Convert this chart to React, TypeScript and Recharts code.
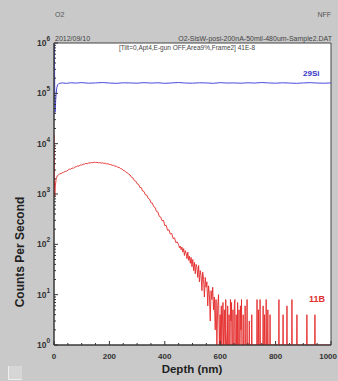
import React from 'react';
import { LineChart, Line, XAxis, YAxis, CartesianGrid, ReferenceArea } from 'recharts';

// 29Si series: [depth (nm), counts per second]
const SI29_SERIES: Array<[number, number]> = [
  [0, 600000], [1, 950000], [2, 320000], [3, 70000], [4, 42000], [5, 52000], [6, 72000],
  [8, 100000], [10, 128000], [13, 148000], [17, 156000], [22, 159000], [30, 161000],
  [45, 158000], [60, 162000], [80, 160000], [100, 163000], [125, 159000], [150, 161000],
  [175, 164000], [200, 160000], [225, 158000], [250, 162000], [275, 161000], [300, 159000],
  [325, 163000], [350, 160000], [375, 162000], [400, 158000], [425, 161000], [450, 164000],
  [475, 160000], [500, 159000], [525, 162000], [550, 161000], [575, 158000], [600, 163000],
  [625, 160000], [650, 161000], [675, 159000], [700, 162000], [725, 160000], [750, 164000],
  [775, 161000], [800, 159000], [825, 162000], [850, 160000], [875, 158000], [900, 161000],
  [925, 163000], [950, 160000], [975, 159000], [1000, 161000],
];

// 11B series: [depth (nm), counts per second]
const B11_SERIES: Array<[number, number]> = [
  [0, 15000], [1, 6000], [2, 1200], [3, 900], [5, 1500], [8, 2000], [12, 2300], [16, 2400],
  [20, 2500], [25, 2550], [30, 2650], [35, 2700], [40, 2800], [45, 2850], [50, 2950],
  [55, 3120], [60, 3100], [65, 3280], [70, 3250], [75, 3420], [80, 3480], [85, 3600],
  [90, 3590], [95, 3760], [100, 3740], [105, 3900], [110, 3920], [115, 4060], [120, 3990],
  [125, 4150], [130, 4100], [135, 4230], [140, 4180], [145, 4280], [150, 4220], [155, 4250],
  [160, 4170], [165, 4210], [170, 4120], [175, 4150], [180, 4060], [185, 4080], [190, 3960],
  [195, 3990], [200, 3860], [205, 3850], [210, 3700], [215, 3720], [220, 3560], [225, 3560],
  [230, 3400], [235, 3380], [240, 3200], [245, 3150], [250, 2950], [255, 2900], [260, 2700],
  [265, 2640], [270, 2450], [275, 2380], [280, 2150], [285, 2080], [290, 1850], [295, 1800],
  [300, 1600], [305, 1560], [310, 1350], [315, 1340], [320, 1150], [325, 1120], [330, 960],
  [335, 950], [340, 820], [345, 790], [350, 670], [355, 660], [360, 560], [365, 540],
  [370, 450], [375, 440], [380, 360], [385, 350], [390, 295], [395, 300], [400, 235],
  [405, 240], [410, 190], [415, 195], [420, 160], [425, 165], [430, 130], [435, 135],
  [440, 108], [445, 112], [450, 98], [453, 85], [456, 92], [459, 78], [462, 88], [465, 70],
  [468, 82], [471, 60], [474, 75], [477, 66], [480, 52], [483, 70], [486, 48], [489, 58],
  [492, 42], [495, 55], [498, 36], [501, 50], [504, 30], [507, 44], [510, 26], [513, 40],
  [516, 35], [519, 22], [522, 38], [525, 18], [528, 30], [531, 24], [534, 12], [537, 28],
  [540, 20], [543, 9], [546, 22], [549, 14], [552, 18], [555, 6], [558, 15], [561, 10],
  [564, 3], [567, 12], [570, 8], [573, 14], [576, 5], [579, 9], [582, 2], [585, 8],
  [588, 1], [591, 6], [594, 10], [597, 1],
  [600, 4], [602, 1], [604, 6], [606, 1], [608, 3], [610, 7], [612, 1], [615, 5], [617, 1],
  [619, 1], [620, 8], [621, 2], [623, 1], [626, 1], [627, 6], [628, 1], [631, 1], [632, 4],
  [633, 1], [636, 1], [637, 8], [639, 3], [641, 7], [642, 1], [645, 1], [646, 5], [647, 1],
  [650, 1], [651, 6], [653, 8], [654, 1], [657, 1], [658, 4], [659, 1], [662, 1], [663, 7],
  [664, 1], [667, 1], [668, 5], [669, 1], [672, 1], [673, 6], [675, 2], [677, 8], [678, 1],
  [682, 1], [683, 4], [684, 1], [689, 1], [690, 6], [691, 1], [696, 1], [697, 8], [698, 1],
  [704, 1], [705, 3], [706, 1], [713, 1], [714, 4], [715, 1], [732, 1], [733, 8], [734, 1],
  [737, 1], [738, 5], [739, 1], [743, 1], [744, 8], [745, 1], [754, 1], [755, 6], [756, 1],
  [759, 1], [760, 4], [761, 1], [765, 1], [766, 8], [767, 1], [771, 1], [772, 5], [773, 1],
  [779, 1], [780, 4], [781, 1], [811, 1], [812, 8], [813, 1], [826, 1], [827, 4], [828, 1],
  [840, 1], [841, 6], [842, 1], [858, 1], [859, 8], [860, 1], [876, 1], [877, 4], [878, 1],
  [912, 1], [913, 4], [914, 1], [941, 1], [942, 4], [943, 1], [1000, 1],
];

const X_TICKS = [0, 50, 100, 150, 200, 250, 300, 350, 400, 450, 500, 550, 600, 650, 700, 750, 800, 850, 900, 950, 1000];
const X_LABELED = [0, 200, 400, 600, 800, 1000];
const Y_DECADES = [1, 10, 100, 1000, 10000, 100000, 1000000];
const Y_MINOR_STEPS = [2, 3, 4, 5, 6, 7, 8, 9];

const siData = SI29_SERIES.map(([d, v]) => ({ d, v }));
const bData = B11_SERIES.map(([d, v]) => ({ d, v }));
const yTicks: number[] = [];
Y_DECADES.forEach((dec, i) => {
  yTicks.push(dec);
  if (i < Y_DECADES.length - 1) Y_MINOR_STEPS.forEach((m) => yTicks.push(dec * m));
});

const FONT = '"Liberation Sans", Arial, sans-serif';

const XTick = (props: any) => {
  const { x, y, payload } = props;
  const v = payload.value;
  const major = X_LABELED.includes(v);
  const isLast = v === X_LABELED[X_LABELED.length - 1];
  return (
    <g>
      <line x1={x} x2={x} y1={y} y2={y - (major ? 4 : 2)} stroke="#333" strokeWidth={1} />
      {major && (
        <text
          x={isLast ? x + 6 : x}
          y={y + 14}
          textAnchor={isLast ? 'end' : 'middle'}
          fontFamily={FONT}
          fontWeight="bold"
          fontSize={8}
          fill="#333"
        >
          {v}
        </text>
      )}
    </g>
  );
};

const YTick = (props: any) => {
  const { x, y, payload } = props;
  const v = payload.value;
  const idx = Y_DECADES.indexOf(v);
  const major = idx >= 0;
  return (
    <g>
      <line x1={x} x2={x + (major ? 4 : 2)} y1={y} y2={y} stroke="#333" strokeWidth={1} />
      {major && (
        <text x={x - 4} y={y + 3} textAnchor="end" fontFamily={FONT} fontWeight="bold" fontSize={8.5} fill="#333">
          10
          <tspan dy={-5} fontSize={6.5}>{idx}</tspan>
        </text>
      )}
    </g>
  );
};

const abs = (s: React.CSSProperties): React.CSSProperties => ({
  position: 'absolute',
  lineHeight: 1,
  whiteSpace: 'nowrap',
  fontFamily: FONT,
  ...s,
});

export default function App() {
  return (
    <div
      style={{
        position: 'fixed',
        left: 0,
        top: 0,
        width: 338,
        height: 381,
        background: '#c9c9c9',
        overflow: 'hidden',
      }}
    >
      <LineChart
        width={338}
        height={381}
        margin={{ top: 43, right: 7, left: 0, bottom: 0 }}
        style={{ position: 'absolute', left: 0, top: 0 }}
      >
        <CartesianGrid horizontal={false} vertical={false} fill="#ffffff" />
        <XAxis
          dataKey="d"
          type="number"
          domain={[0, 1000]}
          ticks={X_TICKS}
          interval={0}
          height={36}
          tickSize={0}
          tickMargin={0}
          tickLine={false}
          tick={<XTick />}
          axisLine={{ stroke: '#333', strokeWidth: 1 }}
          allowDataOverflow
        />
        <YAxis
          type="number"
          scale="log"
          domain={[1, 1000000]}
          ticks={yTicks}
          interval={0}
          width={54}
          tickSize={0}
          tickMargin={0}
          tickLine={false}
          tick={<YTick />}
          axisLine={{ stroke: '#333', strokeWidth: 1 }}
          allowDataOverflow
        />
        <ReferenceArea x1={0} x2={1000} y1={1} y2={1000000} fill="none" stroke="#444" strokeWidth={1} ifOverflow="visible" />
        <Line
          data={bData}
          dataKey="v"
          type="linear"
          stroke="#e42a2a"
          strokeWidth={0.9}
          dot={false}
          isAnimationActive={false}
        />
        <Line
          data={siData}
          dataKey="v"
          type="linear"
          stroke="#4a4adc"
          strokeWidth={1}
          dot={false}
          isAnimationActive={false}
        />
      </LineChart>

      <div style={abs({ left: 55, top: 11, fontSize: 7, color: '#555' })}>O2</div>
      <div style={abs({ right: 7, top: 11, fontSize: 7, color: '#555' })}>NFF</div>
      <div style={abs({ left: 55, top: 35, fontSize: 7, color: '#444' })}>2012/09/10</div>
      <div style={abs({ right: 6, top: 35, fontSize: 7, color: '#444' })}>O2-SisW-posi-200nA-50mil-480um-Sample2.DAT</div>
      <div style={abs({ left: 187, top: 45, fontSize: 6.5, color: '#444', transform: 'translateX(-50%)' })}>
        [Tilt=0,Apt4,E-gun OFF,Area9%,Frame2] 41E-8
      </div>
      <div style={abs({ left: 303, top: 70, fontSize: 8, fontWeight: 'bold', color: '#3535c8' })}>29Si</div>
      <div style={abs({ left: 309, top: 295, fontSize: 9, fontWeight: 'bold', color: '#e03030' })}>11B</div>
      <div style={abs({ left: 192, top: 364, fontSize: 11.5, fontWeight: 'bold', color: '#222', transform: 'translateX(-50%)' })}>
        Depth (nm)
      </div>
      <div
        style={abs({
          left: 20,
          top: 252,
          fontSize: 12,
          fontWeight: 'bold',
          color: '#222',
          transform: 'translate(-50%, -50%) rotate(-90deg)',
        })}
      >
        Counts Per Second
      </div>
      <div
        style={{
          position: 'absolute',
          left: 8,
          top: 366,
          width: 13,
          height: 13,
          background: '#d6d6d6',
          borderLeft: '1px solid #eeeeee',
          borderBottom: '1px solid #eeeeee',
        }}
      />
    </div>
  );
}
